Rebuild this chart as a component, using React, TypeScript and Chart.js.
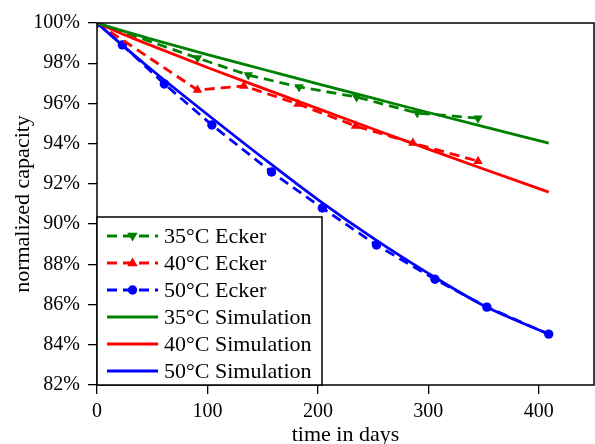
import React, { useEffect, useRef } from 'react';
import { Chart, registerables } from 'chart.js';

Chart.register(...registerables);

const FONT = '"Liberation Serif", "DejaVu Serif", serif';

// Ecker measurements
const ecker35Days = [0, 91, 137, 183, 235, 290, 345];
const ecker35Cap = [100, 98.26, 97.41, 96.82, 96.32, 95.52, 95.27];
const ecker40Days = [0, 91, 133, 182, 234, 286, 345];
const ecker40Cap = [100, 96.67, 96.87, 95.97, 94.88, 94.03, 93.13];
const ecker50Days = [0, 23, 61, 104, 158, 204, 253, 306, 353, 409];
const ecker50Cap = [100, 98.91, 96.97, 94.93, 92.59, 90.8, 88.96, 87.26, 85.87, 84.53];

// Simulation
const simDays = [0, 25, 50, 100, 150, 200, 250, 300, 350, 409];
const sim35Cap = [100, 99.58, 99.19, 98.43, 97.7, 96.97, 96.26, 95.55, 94.85, 94.03];
const sim40Cap = [100, 99.41, 98.86, 97.79, 96.76, 95.74, 94.73, 93.73, 92.74, 91.59];
const sim50Cap = [100, 98.8, 97.65, 95.45, 93.3, 91.22, 89.3, 87.55, 85.95, 84.53];

const xTicks = [0, 100, 200, 300, 400];
const yTicks = [82, 84, 86, 88, 90, 92, 94, 96, 98, 100];

const seriesLabels = [
  '35°C Ecker',
  '40°C Ecker',
  '50°C Ecker',
  '35°C Simulation',
  '40°C Simulation',
  '50°C Simulation',
];

const GREEN = '#008000';
const RED = '#ff0000';
const BLUE = '#0000ff';

const toXY = (xs: number[], ys: number[]) => xs.map((x, i) => ({ x, y: ys[i] }));

function drawMarker(ctx: CanvasRenderingContext2D, style: string, rot: number, x: number, y: number, r: number, color: string) {
  ctx.save();
  ctx.fillStyle = color;
  ctx.setLineDash([]);
  ctx.beginPath();
  if (style === 'circle') {
    ctx.arc(x, y, r, 0, Math.PI * 2);
  } else if (style === 'triangle') {
    const s = rot === 180 ? -1 : 1;
    ctx.moveTo(x, y - s * r);
    ctx.lineTo(x - r * 0.95, y + s * r * 0.6);
    ctx.lineTo(x + r * 0.95, y + s * r * 0.6);
    ctx.closePath();
  }
  ctx.fill();
  ctx.restore();
}

const framePlugin = {
  id: 'frameAndLegend',
  afterDraw(chart: any) {
    const { ctx, chartArea } = chart;
    ctx.save();
    ctx.strokeStyle = '#000';
    ctx.lineWidth = 1.5;
    ctx.setLineDash([]);
    ctx.strokeRect(chartArea.left, chartArea.top, chartArea.right - chartArea.left, chartArea.bottom - chartArea.top);

    // legend box
    const boxW = 225;
    const boxH = 168;
    const bx = chartArea.left;
    const by = chartArea.bottom - boxH;
    ctx.fillStyle = '#fff';
    ctx.fillRect(bx, by, boxW, boxH);
    ctx.strokeRect(bx, by, boxW, boxH);

    const datasets = chart.data.datasets;
    ctx.font = '22px ' + FONT;
    ctx.textBaseline = 'middle';
    ctx.textAlign = 'left';
    datasets.forEach((ds: any, i: number) => {
      const cy = by + 19 + i * 27;
      const x1 = bx + 10;
      const x2 = bx + 61;
      ctx.save();
      ctx.strokeStyle = ds.borderColor;
      ctx.lineWidth = ds.borderWidth;
      ctx.setLineDash(ds.borderDash || []);
      ctx.beginPath();
      ctx.moveTo(x1, cy);
      ctx.lineTo(x2, cy);
      ctx.stroke();
      ctx.restore();
      if (ds.pointRadius > 0) {
        drawMarker(ctx, ds.pointStyle, ds.pointRotation || 0, (x1 + x2) / 2, cy, ds.pointRadius, ds.borderColor);
      }
      ctx.fillStyle = '#000';
      ctx.fillText(ds.label, bx + 67, cy + 1);
    });
    ctx.restore();
  },
};

export default function App() {
  const ref = useRef<HTMLCanvasElement | null>(null);

  useEffect(() => {
    if (!ref.current) return;
    const dashed = (label: string, color: string, xs: number[], ys: number[], style: string, rot: number, r: number) => ({
      label,
      data: toXY(xs, ys),
      borderColor: color,
      backgroundColor: color,
      borderWidth: 2.8,
      borderDash: [10, 6],
      pointStyle: style,
      pointRotation: rot,
      pointRadius: r,
      pointBorderWidth: 0,
      pointBackgroundColor: color,
      fill: false,
      tension: 0,
      clip: 0,
      order: 2,
    });
    const solid = (label: string, color: string, ys: number[]) => ({
      label,
      data: toXY(simDays, ys),
      borderColor: color,
      backgroundColor: color,
      borderWidth: 2.8,
      pointRadius: 0,
      fill: false,
      cubicInterpolationMode: 'monotone',
      clip: 0,
      order: 1,
    });

    const chart = new Chart(ref.current, {
      type: 'line',
      data: {
        datasets: [
          dashed(seriesLabels[0], GREEN, ecker35Days, ecker35Cap, 'triangle', 180, 5.5),
          dashed(seriesLabels[1], RED, ecker40Days, ecker40Cap, 'triangle', 0, 5.5),
          dashed(seriesLabels[2], BLUE, ecker50Days, ecker50Cap, 'circle', 0, 4.7),
          solid(seriesLabels[3], GREEN, sim35Cap),
          solid(seriesLabels[4], RED, sim40Cap),
          solid(seriesLabels[5], BLUE, sim50Cap),
        ] as any,
      },
      options: {
        responsive: false,
        animation: false,
        layout: { autoPadding: false, padding: { top: 23, right: 1, left: 0, bottom: 0 } },
        plugins: {
          legend: { display: false },
          tooltip: { enabled: false },
        },
        scales: {
          x: {
            type: 'linear',
            min: 0,
            max: 450,
            afterBuildTicks: (s: any) => {
              s.ticks = xTicks.map((v) => ({ value: v }));
            },
            afterFit: (s: any) => {
              s.height = 59;
              s.paddingLeft = 0;
              s.paddingRight = 0;
            },
            grid: { drawOnChartArea: false, drawTicks: true, tickLength: 9, color: '#000', lineWidth: 1.3 },
            border: { display: false },
            ticks: { color: '#000', font: { family: FONT, size: 20 }, padding: 6, maxRotation: 0 },
            title: {
              display: true,
              text: 'time in days',
              color: '#000',
              font: { family: FONT, size: 22 },
              padding: { top: 0, bottom: -4 },
            },
          },
          y: {
            type: 'linear',
            min: 82,
            max: 100,
            afterBuildTicks: (s: any) => {
              s.ticks = yTicks.map((v) => ({ value: v }));
            },
            afterFit: (s: any) => {
              s.width = 97;
              s.paddingTop = 0;
              s.paddingBottom = 0;
            },
            grid: { drawOnChartArea: false, drawTicks: true, tickLength: 9, color: '#000', lineWidth: 1.3 },
            border: { display: false },
            ticks: {
              color: '#000',
              font: { family: FONT, size: 20 },
              padding: 8,
              callback: (v: any) => v + '%',
            },
            title: {
              display: true,
              text: 'normalized capacity',
              color: '#000',
              font: { family: FONT, size: 22 },
              padding: { top: 10, bottom: 0 },
            },
          },
        },
      },
      plugins: [framePlugin],
    });
    return () => chart.destroy();
  }, []);

  return (
    <div style={{ position: 'fixed', left: 0, top: 0, width: 595, height: 444, background: '#fff' }}>
      <canvas ref={ref} width={595} height={444} style={{ width: 595, height: 444 }} />
    </div>
  );
}
